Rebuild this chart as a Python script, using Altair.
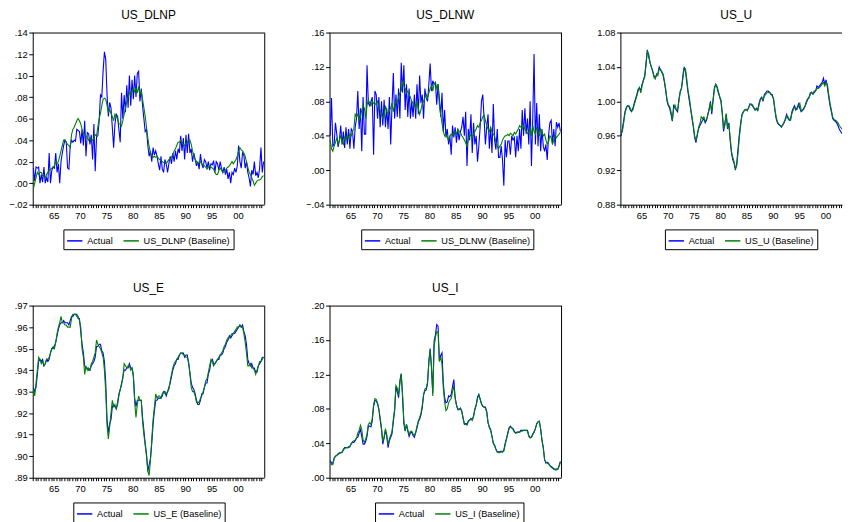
import altair as alt
import pandas as pd

# Quarterly observations 1961Q1 .. 2004Q4 (176 per series), values in thousandths
DLNP_ACT = [14, 2, 15, 14, 15, 0, 8, 1, 15, 0, 5, 1, 28, 0, 12, 15,
            14, 28, 10, 18, 0, 20, 28, 35, 40, 38, 14, 13, 35, 40, 38, 40,
            39, 50, 49, 48, 37, 50, 35, 58, 25, 47, 46, 36, 45, 22, 55, 11,
            43, 44, 58, 82, 80, 104, 122, 115, 82, 62, 75, 70, 52, 33, 55, 64,
            62, 50, 38, 84, 60, 82, 66, 91, 70, 100, 72, 96, 78, 100, 80, 102,
            104, 76, 88, 72, 60, 48, 50, 35, 25, 30, 20, 33, 26, 30, 25, 18,
            12, 25, 13, 10, 22, 18, 10, 18, 25, 18, 28, 20, 30, 22, 32, 28,
            44, 30, 42, 22, 45, 28, 46, 28, 32, 20, 28, 22, 16, 20, 13, 27,
            18, 14, 22, 20, 14, 20, 12, 18, 17, 21, 10, 20, 18, 12, 20, 14,
            10, 15, 8, 13, 4, 10, 0, 10, 8, 14, 10, 16, 35, 20, 14, 28,
            26, 14, 20, 10, 5, -3, 12, 8, 20, 7, 10, 5, 14, 33, 10, 20]
DLNP_BASE = [-5, 0, 5, 10, 8, 10, 10, 7, 6, 5, 8, 10, 12, 13, 14, 15,
             16, 20, 18, 20, 25, 30, 35, 40, 40, 38, 36, 35, 33, 45, 50, 52,
             55, 58, 60, 58, 55, 50, 46, 45, 44, 42, 40, 42, 40, 40, 42, 45,
             44, 52, 60, 65, 72, 78, 79, 78, 72, 66, 68, 65, 62, 58, 64, 62,
             60, 55, 55, 53, 58, 64, 70, 76, 80, 84, 82, 86, 88, 85, 88, 84,
             90, 82, 86, 78, 70, 62, 52, 42, 34, 28, 26, 24, 25, 24, 25, 23,
             22, 21, 20, 19, 19, 18, 20, 22, 22, 24, 27, 30, 32, 35, 38, 38,
             40, 38, 36, 35, 37, 38, 40, 40, 36, 30, 25, 22, 20, 18, 19, 20,
             18, 17, 16, 15, 13, 15, 16, 15, 14, 13, 10, 8, 8, 12, 14, 12,
             10, 11, 12, 14, 15, 16, 18, 20, 18, 20, 22, 25, 30, 33, 31, 30,
             28, 25, 20, 15, 10, 8, 5, 2, -2, 0, 2, 3, 3, 4, 6, 7]

DLNW_ACT = [40, 84, 28, 30, 55, 42, 27, 35, 52, 30, 45, 26, 50, 30, 48, 25,
            48, 45, 25, 50, 60, 92, 48, 72, 22, 85, 42, 42, 122, 78, 75, 80,
            85, 18, 92, 88, 60, 85, 50, 80, 52, 82, 50, 72, 48, 85, 30, 75,
            113, 60, 88, 62, 95, 60, 125, 90, 122, 70, 100, 62, 95, 60, 80, 62,
            88, 60, 100, 65, 110, 78, 88, 60, 95, 84, 80, 100, 124, 92, 104, 100,
            102, 76, 100, 84, 62, 90, 45, 70, 38, 48, 30, 40, 18, 52, 38, 50,
            32, 48, 35, 45, 50, 62, 40, 68, 5, 48, 35, 65, 20, 55, 30, 40,
            10, 28, 50, 80, 88, 60, 30, 50, 65, 25, 50, 20, 77, 35, 24, 48,
            15, 15, 28, 12, -18, 35, 15, 34, 34, 18, 40, 35, 38, 15, 40, 22,
            48, 25, 70, 40, 72, 42, 60, 30, 80, 5, 60, 135, 30, 78, 28, 65,
            22, 48, 28, 22, 30, 12, 40, 55, 58, 30, 48, 28, 56, 50, 55, 45]
DLNW_BASE = [35, 25, 22, 28, 32, 38, 30, 35, 40, 33, 30, 38, 35, 40, 38, 42,
             40, 45, 48, 65, 62, 65, 58, 62, 70, 75, 72, 60, 75, 82, 78, 75,
             80, 78, 76, 78, 80, 72, 70, 65, 60, 62, 75, 68, 65, 70, 72, 78,
             68, 75, 80, 78, 85, 90, 92, 104, 98, 95, 90, 92, 88, 85, 80, 78,
             75, 72, 80, 72, 65, 70, 78, 80, 85, 88, 84, 90, 95, 98, 92, 100,
             102, 95, 100, 75, 65, 55, 45, 40, 42, 38, 35, 40, 42, 40, 44, 45,
             42, 48, 45, 44, 40, 38, 35, 32, 28, 35, 42, 40, 38, 42, 45, 48,
             52, 50, 55, 58, 62, 64, 58, 52, 48, 45, 50, 44, 42, 40, 32, 28,
             25, 28, 30, 35, 38, 40, 40, 42, 40, 43, 42, 40, 44, 42, 45, 48,
             52, 50, 48, 52, 48, 45, 43, 44, 48, 40, 52, 45, 42, 50, 45, 40,
             48, 44, 40, 42, 35, 30, 33, 40, 38, 30, 35, 40, 38, 40, 42, 44]

U_ACT = [960, 968, 978, 988, 993, 995, 994, 990, 988, 992, 998, 1003, 1008, 1014, 1016, 1012,
         1020, 1025, 1030, 1045, 1060, 1052, 1045, 1040, 1035, 1030, 1028, 1030, 1032, 1040, 1036, 1035,
         1030, 1022, 1012, 1000, 995, 992, 985, 977, 995, 992, 990, 988, 1002, 1012, 1015, 1030,
         1040, 1035, 1022, 1010, 1000, 990, 980, 970, 958, 952, 962, 968, 972, 975, 978, 980,
         975, 978, 985, 990, 1000, 985, 1002, 1016, 1020, 1016, 1010, 1005, 1000, 985, 965, 975,
         985, 968, 975, 955, 940, 932, 928, 920, 928, 945, 962, 975, 985, 988, 990, 990,
         990, 992, 997, 996, 995, 992, 990, 992, 990, 998, 1003, 1005, 1000, 1008, 1010, 1012,
         1012, 1010, 1008, 1008, 1002, 990, 980, 975, 973, 972, 970, 973, 975, 980, 985, 980,
         978, 980, 988, 992, 995, 990, 993, 997, 992, 988, 990, 992, 995, 1000, 1003, 1005,
         1010, 1010, 1008, 1012, 1012, 1018, 1016, 1018, 1020, 1022, 1027, 1020, 1025, 1016, 1005, 995,
         988, 980, 978, 977, 975, 972, 968, 965, 963, 962, 964, 966, 968, 968, 970, 972]
U_BASE = [962, 965, 975, 986, 992, 995, 995, 992, 989, 990, 996, 1001, 1006, 1012, 1016, 1010,
          1018, 1024, 1028, 1042, 1058, 1055, 1046, 1040, 1036, 1028, 1026, 1032, 1030, 1038, 1038, 1033,
          1032, 1024, 1014, 1002, 996, 994, 988, 978, 992, 996, 991, 990, 1000, 1010, 1016, 1026,
          1038, 1038, 1026, 1012, 1004, 992, 982, 972, 960, 955, 960, 970, 974, 982, 980, 982,
          977, 979, 984, 992, 998, 988, 1000, 1014, 1020, 1018, 1012, 1006, 1002, 988, 968, 972,
          986, 970, 973, 958, 942, 935, 930, 922, 925, 940, 958, 972, 984, 987, 990, 991,
          989, 993, 996, 997, 996, 993, 990, 991, 989, 996, 1002, 1004, 1002, 1006, 1008, 1010,
          1010, 1011, 1009, 1006, 1004, 992, 982, 976, 974, 972, 971, 972, 976, 978, 983, 982,
          979, 978, 986, 990, 993, 992, 991, 995, 998, 990, 989, 991, 994, 998, 1002, 1004,
          1008, 1011, 1009, 1010, 1012, 1015, 1015, 1016, 1018, 1020, 1022, 1018, 1022, 1020, 1008, 998,
          990, 982, 979, 978, 977, 975, 972, 970, 968, 967, 967, 968, 969, 970, 971, 972]

E_ACT = [932, 930, 932, 938, 944, 945, 944, 945, 942, 943, 945, 944, 945, 948, 950, 950,
         951, 953, 956, 959, 961, 962, 962, 963, 962, 962, 962, 961, 963, 965, 965, 966,
         966, 966, 964, 964, 958, 952, 948, 942, 941, 941, 940, 940, 942, 943, 944, 946,
         951, 951, 952, 952, 949, 948, 944, 934, 917, 911, 915, 917, 923, 924, 923, 922,
         925, 929, 931, 933, 937, 940, 940, 941, 941, 943, 941, 941, 937, 927, 923, 926,
         926, 926, 926, 918, 912, 906, 901, 893, 896, 899, 906, 915, 921, 926, 926, 927,
         927, 927, 928, 930, 930, 928, 930, 932, 934, 937, 940, 942, 943, 945, 945, 947,
         948, 948, 948, 946, 947, 947, 943, 939, 934, 932, 931, 929, 926, 924, 924, 926,
         929, 929, 932, 934, 934, 938, 940, 944, 945, 943, 943, 944, 945, 945, 947, 947,
         948, 950, 951, 953, 954, 956, 955, 956, 957, 957, 958, 959, 960, 961, 960, 961,
         958, 956, 952, 945, 943, 942, 943, 941, 941, 939, 939, 942, 943, 944, 946, 946]
E_BASE = [931, 928, 934, 940, 946, 945, 943, 944, 942, 943, 945, 945, 946, 948, 950, 951,
          950, 953, 957, 960, 962, 965, 962, 962, 961, 961, 960, 960, 960, 964, 966, 966,
          966, 965, 965, 963, 960, 950, 946, 938, 942, 940, 941, 940, 943, 944, 946, 948,
          954, 952, 951, 950, 948, 946, 940, 930, 914, 908, 914, 920, 926, 923, 924, 922,
          924, 928, 931, 934, 936, 943, 942, 941, 942, 942, 940, 941, 938, 925, 918, 924,
          928, 926, 926, 916, 910, 905, 900, 893, 891, 898, 908, 917, 923, 929, 927, 928,
          928, 927, 929, 930, 929, 929, 930, 931, 935, 938, 941, 943, 944, 945, 946, 947,
          948, 948, 947, 947, 946, 946, 944, 938, 932, 930, 930, 928, 925, 925, 925, 927,
          928, 930, 932, 935, 936, 939, 942, 945, 944, 942, 943, 944, 945, 946, 947, 948,
          949, 951, 952, 954, 955, 955, 956, 957, 957, 958, 959, 960, 960, 961, 960, 960,
          957, 953, 948, 942, 942, 943, 941, 941, 940, 938, 940, 942, 944, 944, 945, 946]

I_ACT = [20, 17, 17, 23, 25, 26, 28, 29, 29, 30, 33, 35, 35, 35, 35, 36,
         40, 41, 41, 43, 46, 47, 52, 56, 48, 39, 39, 42, 48, 60, 60, 59,
         66, 83, 90, 89, 86, 79, 67, 56, 39, 46, 55, 48, 35, 43, 47, 51,
         65, 78, 106, 100, 93, 113, 121, 94, 63, 54, 62, 54, 48, 52, 53, 49,
         47, 52, 58, 65, 68, 73, 81, 96, 101, 102, 109, 136, 150, 127, 98, 159,
         166, 178, 176, 136, 142, 145, 110, 93, 87, 88, 95, 94, 97, 106, 114, 93,
         85, 79, 79, 81, 78, 69, 62, 63, 62, 66, 67, 69, 67, 72, 80, 85,
         94, 97, 91, 86, 83, 82, 82, 77, 64, 59, 56, 48, 40, 38, 33, 30,
         30, 30, 31, 30, 32, 40, 45, 52, 58, 60, 58, 57, 54, 52, 53, 53,
         53, 55, 55, 55, 55, 55, 55, 49, 47, 47, 51, 53, 57, 63, 65, 65,
         56, 43, 35, 21, 17, 18, 17, 14, 13, 12, 10, 10, 10, 10, 14, 19]
I_BASE = [18, 15, 15, 22, 25, 26, 27, 28, 29, 29, 32, 34, 35, 35, 36, 37,
          39, 42, 43, 44, 46, 52, 55, 61, 56, 44, 41, 45, 51, 62, 64, 62,
          69, 85, 92, 91, 87, 80, 70, 58, 42, 48, 57, 50, 38, 45, 49, 54,
          68, 80, 107, 104, 96, 110, 120, 98, 66, 55, 62, 56, 50, 54, 54, 51,
          49, 53, 60, 66, 70, 75, 84, 97, 103, 104, 111, 133, 148, 130, 95, 152,
          163, 170, 169, 135, 140, 132, 104, 88, 78, 80, 87, 90, 92, 100, 107, 92,
          84, 80, 80, 80, 77, 70, 63, 62, 61, 65, 67, 68, 67, 71, 79, 84,
          92, 96, 92, 86, 83, 82, 81, 76, 64, 58, 55, 48, 40, 37, 33, 30,
          29, 29, 30, 30, 31, 38, 45, 51, 57, 59, 58, 56, 53, 52, 52, 53,
          53, 54, 54, 55, 55, 55, 54, 48, 46, 47, 50, 53, 57, 62, 65, 66,
          57, 44, 35, 21, 18, 17, 16, 14, 12, 11, 10, 9, 9, 10, 13, 18]

TICKS = [1961 + k / 2 for k in range(88)]
T = [1961 + i / 4 + 0.125 for i in range(176)]
BLUE = "#0000ff"
GREEN = "#008000"
FONT = "Liberation Sans"
H = 174
W = 234
ONE = pd.DataFrame({"k": [0]})


def panel(name, act, base, ydom, yticks, strip0, legx, xmax=2005, off=0,
          width=W, right=True, clip=False):
    lab = f"{name} (Baseline)"
    df = pd.DataFrame({
        "t": T + T,
        "v": [a / 1000 for a in act] + [b / 1000 for b in base],
        "s": ["Actual"] * len(act) + [lab] * len(base),
    })
    xs = dict(domain=[1961, xmax], nice=False, zero=False)
    if off:
        xs["range"] = [off, off + width]
    xscale = alt.Scale(**xs)
    yscale = alt.Scale(domain=ydom, nice=False, zero=False)
    ylab = ("replace(format(datum.value, '.2f'), '0.', '.')" if strip0
            else "format(datum.value, '.2f')")
    xaxis = alt.Axis(values=[v for v in TICKS if v <= xmax],
                     labelExpr="datum.value % 5 == 0 ? slice(toString(datum.value), 2) : ''",
                     tickSize=3, title=None, grid=False, domain=True,
                     labelOverlap=False, labelFlush=False, labelPadding=3)
    yargs = dict(values=yticks, labelExpr=ylab, tickSize=4, title=None,
                 grid=False, domain=True, labelOverlap=False, labelFlush=False,
                 labelPadding=1.5)
    if off:
        yargs["offset"] = -off
    yaxis = alt.Axis(**yargs)
    lines = alt.Chart(df).mark_line(strokeWidth=1.1, clip=clip).encode(
        x=alt.X("t:Q", scale=xscale, axis=xaxis),
        y=alt.Y("v:Q", scale=yscale, axis=yaxis),
        color=alt.Color("s:N",
                        scale=alt.Scale(domain=["Actual", lab], range=[BLUE, GREEN]),
                        legend=alt.Legend(orient="none", legendX=legx, legendY=199,
                                          direction="horizontal",
                                          title=None, strokeColor="black",
                                          padding=3, symbolType="stroke",
                                          symbolSize=240, symbolStrokeWidth=1.5,
                                          labelFontSize=9.3, labelColor="black",
                                          columnPadding=7, labelOffset=4)),
    )
    layers = [lines,
              # top edge of the plot frame
              alt.Chart(ONE).mark_rule(color="black", strokeWidth=1).encode(
                  x=alt.value(off), x2=alt.value(off + width), y=alt.value(0.5)),
              # panel title
              alt.Chart(ONE).mark_text(text=name, font=FONT, fontSize=12,
                                       color="black", align="center",
                                       baseline="middle").encode(
                  x=alt.value(off + W / 2), y=alt.value(-18))]
    if right:
        layers.append(alt.Chart(ONE).mark_rule(color="black", strokeWidth=1).encode(
            x=alt.value(off + width + 0.5), y=alt.value(0), y2=alt.value(H)))
    return alt.layer(*layers).properties(width=width, height=H)


p1 = panel("US_DLNP", DLNP_ACT, DLNP_BASE, [-0.02, 0.14],
           [-0.02, 0.0, 0.02, 0.04, 0.06, 0.08, 0.10, 0.12, 0.14], True, 31)
p2 = panel("US_DLNW", DLNW_ACT, DLNW_BASE, [-0.04, 0.16],
           [-0.04, 0.0, 0.04, 0.08, 0.12, 0.16], True, 35, off=3)
p3 = panel("US_U", U_ACT, U_BASE, [0.88, 1.08],
           [0.88, 0.92, 0.96, 1.00, 1.04, 1.08], False, 45, xmax=2003.15,
           width=224, right=False, clip=True)
p4 = panel("US_E", E_ACT, E_BASE, [0.89, 0.97],
           [0.89, 0.90, 0.91, 0.92, 0.93, 0.94, 0.95, 0.96, 0.97], True, 41)
p5 = panel("US_I", I_ACT, I_BASE, [0.0, 0.20],
           [0.0, 0.04, 0.08, 0.12, 0.16, 0.20], True, 49, off=3)

chart = alt.concat(
    p1, p2, p3, p4, p5, columns=3,
    spacing={"row": 102, "column": 63}, bounds="flush",
).resolve_scale(
    color="independent", x="independent", y="independent"
).properties(
    padding={"left": 0, "top": -2, "right": 0, "bottom": 0},
).configure(
    font=FONT,
).configure_view(
    stroke=None,
).configure_axis(
    labelFont=FONT, labelFontSize=9.5, labelColor="black",
    tickColor="black", domainColor="black", domainWidth=1, tickWidth=1,
).configure_legend(
    labelFont=FONT,
)

chart.save("out.html", embed_options={"renderer": "svg", "actions": False})
